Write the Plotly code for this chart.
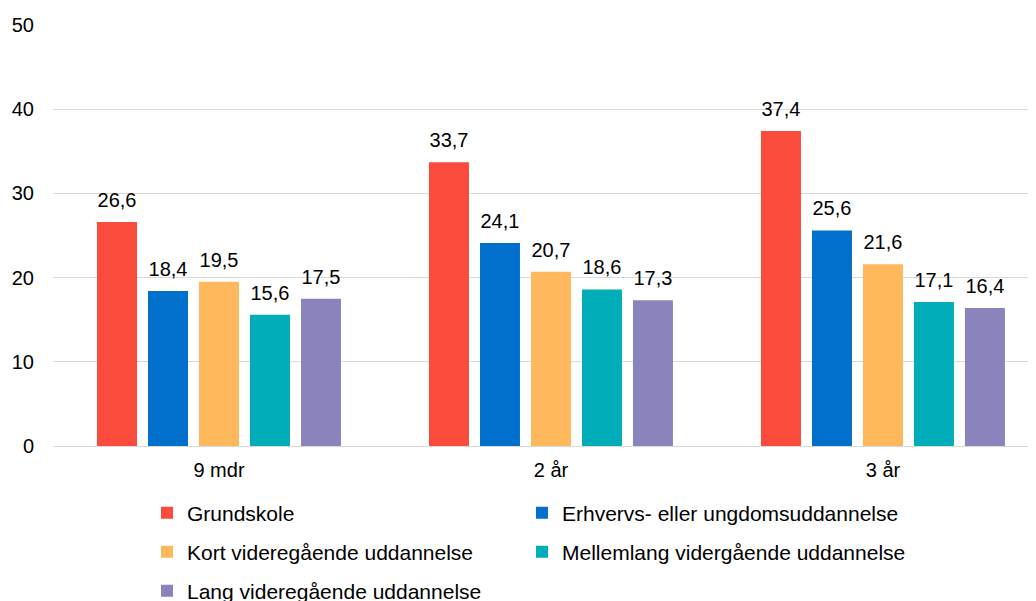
import plotly.graph_objects as go

categories = ["9 mdr", "2 år", "3 år"]
series_names = [
    "Grundskole",
    "Erhvervs- eller ungdomsuddannelse",
    "Kort videregående uddannelse",
    "Mellemlang vidergående uddannelse",
    "Lang videregående uddannelse",
]
grundskole = [26.6, 33.7, 37.4]
erhverv = [18.4, 24.1, 25.6]
kort = [19.5, 20.7, 21.6]
mellemlang = [15.6, 18.6, 17.1]
lang = [17.5, 17.3, 16.4]
y_ticks = [0, 10, 20, 30, 40, 50]

series_values = [grundskole, erhverv, kort, mellemlang, lang]
colors = ["#FA4B3C", "#0070CC", "#FFB95C", "#00ADB8", "#8A84BC"]

FONT = "Liberation Sans, Arial, sans-serif"

# The page places the figure 8px from the top-left corner (body margin),
# so the figure is sized to end exactly at the window edge.
W, H = 1028, 593
OFF = 8

legend_ids = ["legend", "legend2", "legend3", "legend4", "legend5"]
# legend grid: (column left in window px, row centre in window px)
legend_pos = [(147, 513), (522, 513), (147, 552), (522, 552), (147, 591)]

fig = go.Figure()
for i, (name, vals) in enumerate(zip(series_names, series_values)):
    fig.add_trace(go.Bar(
        x=categories, y=vals, name=name, marker_color=colors[i],
        marker_line_width=0, offsetgroup=str(i), legend=legend_ids[i],
        hoverinfo="skip",
    ))
for i, (name, vals) in enumerate(zip(series_names, series_values)):
    fig.add_trace(go.Scatter(
        x=categories, y=vals, mode="markers+text",
        text=[f"{v:.1f}".replace(".", ",") for v in vals],
        textposition="top center",
        textfont=dict(size=20, color="#000000", family=FONT),
        marker=dict(size=14.4, opacity=0, color=colors[i]),
        offsetgroup=str(i), showlegend=False, cliponaxis=False,
        hoverinfo="skip",
    ))

legends = {}
for lid, (lx, ly) in zip(legend_ids, legend_pos):
    legends[lid] = dict(
        orientation="h", xref="container", yref="container",
        x=(lx - OFF) / W, y=1 - (ly - OFF) / H,
        xanchor="left", yanchor="middle",
        font=dict(size=21, family=FONT, color="#000000"),
        bgcolor="rgba(0,0,0,0)", borderwidth=0,
    )

fig.update_layout(
    width=W, height=H,
    margin=dict(l=53 - OFF, r=0, t=25 - OFF, b=155, autoexpand=False),
    paper_bgcolor="white", plot_bgcolor="white",
    barmode="group", bargap=0.232, bargroupgap=0.216,
    scattermode="group", scattergap=0.232,
    font=dict(family=FONT, size=20, color="#000000"),
    xaxis=dict(
        type="category", range=[-0.5, 2.461],
        showgrid=False, showline=False, zeroline=False,
        ticks="", ticklabelstandoff=10,
        tickfont=dict(size=20, family=FONT, color="#000000"),
    ),
    yaxis=dict(
        range=[0, 50], tickvals=y_ticks,
        showgrid=True, gridcolor="#D9D9D9", gridwidth=1.3,
        zeroline=True, zerolinecolor="#D9D9D9", zerolinewidth=1.3,
        showline=False, ticks="", ticklabelstandoff=18,
        tickfont=dict(size=20, family=FONT, color="#000000"),
    ),
    showlegend=True,
    **legends,
)

fig.write_html("out.html")
